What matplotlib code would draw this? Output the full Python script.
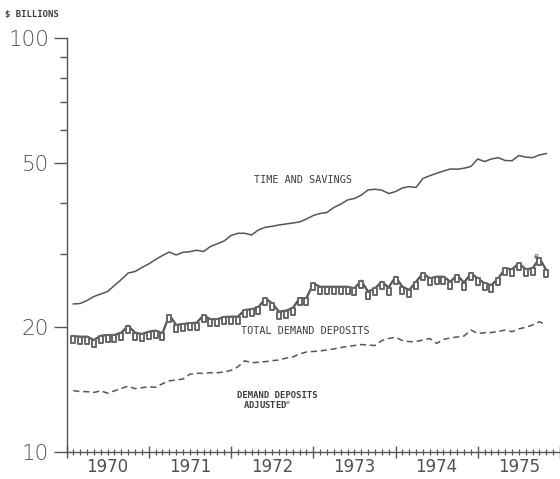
import numpy as np
import pandas as pd
import matplotlib
matplotlib.use("Agg")
import matplotlib.pyplot as plt
from matplotlib.path import Path
from matplotlib.ticker import FixedLocator, NullFormatter, FuncFormatter

# monthly observations, Feb 1970 .. Nov 1975 ($ billions)
months = pd.date_range("1970-02-01", periods=70, freq="MS")

time_savings = [
    22.78, 22.84, 23.22, 23.75, 24.08, 24.42, 25.25, 26.10, 27.06, 27.29,
    27.90, 28.46, 29.17, 29.83, 30.41, 29.91, 30.37, 30.47, 30.71, 30.50,
    31.36, 31.84, 32.34, 33.34, 33.75, 33.75, 33.43, 34.38, 34.90, 35.09,
    35.35, 35.54, 35.74, 35.94, 36.54, 37.26, 37.68, 37.89, 38.96, 39.67,
    40.62, 40.96, 41.72, 42.96, 43.12, 42.91, 42.10, 42.56, 43.43, 43.75,
    43.55, 45.78, 46.49, 47.12, 47.72, 48.26, 48.20, 48.47, 48.93, 51.02,
    50.31, 51.02, 51.40, 50.59, 50.53, 52.02, 51.54, 51.40, 52.17, 52.60,
]
total_demand = [
    19.06, 18.99, 18.99, 18.64, 19.09, 19.17, 19.17, 19.42, 20.19, 19.42,
    19.28, 19.53, 19.64, 19.35, 21.42, 20.27, 20.38, 20.46, 20.53, 21.42,
    20.92, 20.92, 21.19, 21.23, 21.23, 22.03, 22.12, 22.36, 23.51, 22.87,
    21.83, 21.95, 22.25, 23.51, 23.51, 25.55, 25.07, 25.07, 25.07, 25.07,
    25.07, 24.85, 25.93, 24.39, 24.85, 25.78, 24.96, 26.51, 25.07, 24.62,
    25.78, 27.01, 26.27, 26.51, 26.51, 25.78, 26.76, 25.64, 27.01, 26.27,
    25.55, 25.31, 26.27, 27.78, 27.63, 28.57, 27.63, 27.78, 29.37, 27.52,
]
demand_adjusted = [
    14.07, 13.99, 13.99, 13.93, 14.05, 13.87, 14.05, 14.24, 14.43, 14.22,
    14.30, 14.37, 14.33, 14.62, 14.86, 14.92, 15.01, 15.41, 15.49, 15.49,
    15.54, 15.54, 15.60, 15.75, 16.06, 16.61, 16.43, 16.47, 16.53, 16.62,
    16.68, 16.85, 16.96, 17.25, 17.44, 17.49, 17.54, 17.64, 17.74, 17.88,
    17.98, 18.08, 18.18, 18.13, 18.08, 18.59, 18.80, 18.93, 18.59, 18.47,
    18.49, 18.64, 18.80, 18.29, 18.70, 18.86, 18.96, 19.06, 19.71, 19.33,
    19.42, 19.44, 19.55, 19.71, 19.53, 19.83, 20.01, 20.27, 20.64, 20.27,
]
years = [1970, 1971, 1972, 1973, 1974, 1975]

GRAY = "#555555"
INK = "#3c3c3c"
MONO = "DejaVu Sans Mono"

t = np.asarray(months.year + (months.month - 1) / 12.0)

# open square hanging below its data point (plotter style)
hang_sq = Path([(-0.35, 0), (-0.35, -1), (0.35, -1), (0.35, 0), (-0.35, 0)], closed=True)

fig = plt.figure(figsize=(5.6, 4.79), dpi=100)
ax = fig.add_axes([66.5 / 560, 1 - 452 / 479, 1 - 66.5 / 560, (452 - 38) / 479])

ax.plot(t, time_savings, color=GRAY, lw=1.1)
ax.plot(t, total_demand, color=GRAY, lw=1.6, marker=hang_sq, ms=10,
        mfc="white", mec="#666666", mew=1.4)
ax.plot(t, demand_adjusted, color=GRAY, lw=1.1, dashes=(4, 2.5))

ax.set_yscale("log")
ax.set_ylim(10, 100)
ax.set_xlim(1970, 1976)

for s in ("top", "right"):
    ax.spines[s].set_visible(False)
for s in ("left", "bottom"):
    ax.spines[s].set_color(GRAY)
    ax.spines[s].set_linewidth(1)

ax.yaxis.set_major_locator(FixedLocator([10, 20, 50, 100]))
ax.yaxis.set_major_formatter(FuncFormatter(lambda v, p: f"{v:g}"))
ax.yaxis.set_minor_locator(FixedLocator([30, 40, 60, 70, 80, 90]))
ax.yaxis.set_minor_formatter(NullFormatter())
ax.tick_params(axis="y", which="major", length=9.5, width=1, color=GRAY,
               labelsize=15.5, labelcolor="#505050", pad=3)
ax.tick_params(axis="y", which="minor", length=5, width=1, color=GRAY)
for lab in ax.get_yticklabels():
    lab.set_fontweight("light")

ax.set_xticks(np.arange(1970, 1977))
ax.set_xticklabels([])
ax.set_xticks(np.arange(1970, 1976, 1 / 12.0), minor=True)
ax.tick_params(axis="x", which="major", direction="inout", length=9, width=1, color=GRAY)
ax.tick_params(axis="x", which="minor", direction="inout", length=5, width=0.9, color=GRAY)

sec = ax.secondary_xaxis("bottom")
sec.set_xticks([y + 0.5 for y in years], labels=[str(y) for y in years])
sec.tick_params(length=0, pad=4.5, labelsize=12, labelcolor="#505050")
sec.spines["bottom"].set_visible(False)

fig.text(0.009, 1 - 15 / 479, "$ BILLIONS", family=MONO, fontsize=6.5,
         fontweight="bold", color=INK, va="center", ha="left")

ax.text(1972.88, 45.4, "TIME AND SAVINGS", family=MONO, fontsize=7.3,
        color=INK, ha="center", va="center")
ax.text(1972.90, 19.6, "TOTAL DEMAND DEPOSITS", family=MONO, fontsize=7.3,
        color=INK, ha="center", va="center")
ax.text(1972.56, 13.73, "DEMAND DEPOSITS", family=MONO, fontsize=6.4,
        fontweight="bold", color=INK, ha="center", va="center")
ax.text(1972.44, 13.02, "ADJUSTED$^{e}$", family=MONO, fontsize=6.4,
        fontweight="bold", color=INK, ha="center", va="center")
ax.text(1975.70, 29.6, "e", family=MONO, fontsize=5.5, color=INK,
        ha="center", va="center")

fig.savefig("out.png", dpi=100)
